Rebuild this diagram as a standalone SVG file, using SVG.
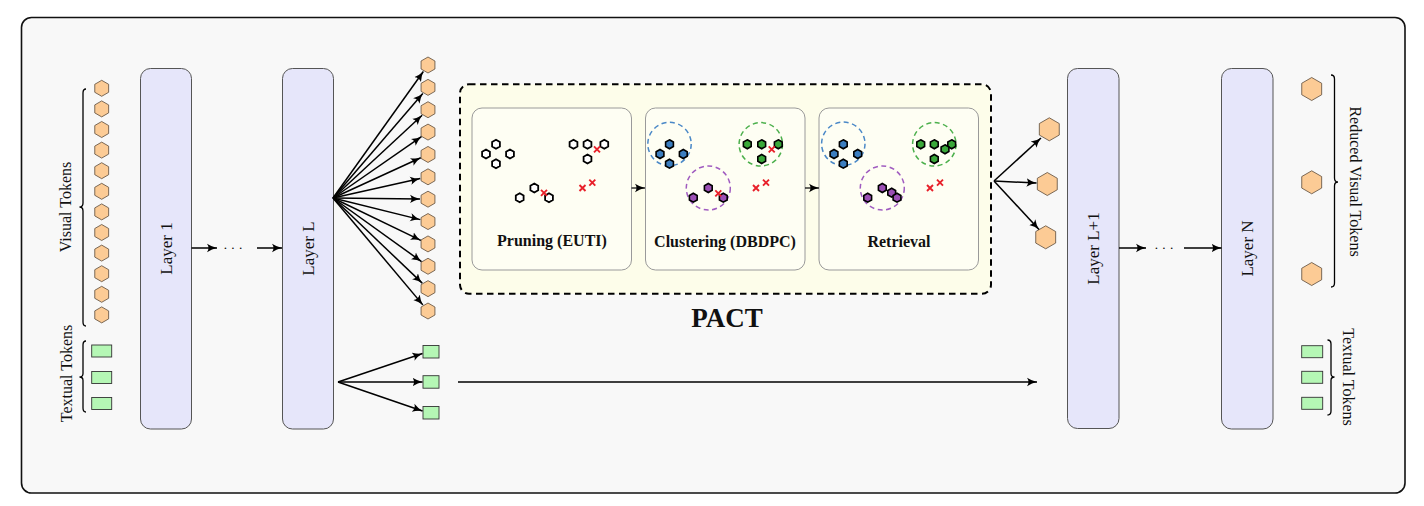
<svg xmlns="http://www.w3.org/2000/svg" xmlns:xlink="http://www.w3.org/1999/xlink" width="1424" height="506" viewBox="0 0 1424 506">
<style>
.layer{fill:#e6e6fa;stroke:#555;stroke-width:1}
.ltxt{font-family:"Liberation Serif",serif;font-size:17px;fill:#111;text-anchor:middle}
.tok{font-family:"Liberation Serif",serif;font-size:16px;fill:#111;text-anchor:middle}
.btxt{font-family:"Liberation Serif",serif;font-size:16px;font-weight:bold;fill:#111;text-anchor:middle}
.vis{fill:#fccb95;stroke:#5a4a3a;stroke-width:0.8}
.txt{fill:#b5f7b5;stroke:#333;stroke-width:0.9}
.arr{stroke:#000;stroke-width:1.5;fill:none;marker-end:url(#ah)}
.brace{stroke:#000;stroke-width:1.3;fill:none}
.sub{fill:#fefef3;stroke:#9a9a9a;stroke-width:1}
.pw{fill:#fff;stroke:#000;stroke-width:1.8}
.pb{fill:#3c7ec0;stroke:#000;stroke-width:1.6}
.pg{fill:#3aa83a;stroke:#000;stroke-width:1.6}
.pp{fill:#9b4fb5;stroke:#000;stroke-width:1.6}
.cx{stroke:#e8202a;stroke-width:1.9;fill:none}
.cb{fill:none;stroke:#4a88c7;stroke-width:1.5;stroke-dasharray:5 3.5}
.cg{fill:none;stroke:#4cb04c;stroke-width:1.5;stroke-dasharray:5 3.5}
.cp{fill:none;stroke:#a05cc0;stroke-width:1.5;stroke-dasharray:5 3.5}
</style>
<defs>
<marker id="ah" markerUnits="userSpaceOnUse" markerWidth="12" markerHeight="10" viewBox="0 0 12 10" refX="10" refY="5" orient="auto">
<path d="M0,0.8 Q5,4 10,5 Q5,6 0,9.2 Q3,5 0,0.8 Z" fill="#000"/>
</marker>
<polygon id="hs" points="0,-8 6.93,-4 6.93,4 0,8 -6.93,4 -6.93,-4"/>
<polygon id="hl" points="0,-11.5 9.96,-5.75 9.96,5.75 0,11.5 -9.96,5.75 -9.96,-5.75"/>
<polygon id="ht" points="0,-4.5 3.9,-2.25 3.9,2.25 0,4.5 -3.9,2.25 -3.9,-2.25"/>
<path id="xx" d="M-3,-3 L3,3 M-3,3 L3,-3"/>
</defs>

<rect x="21.5" y="17.5" width="1383.5" height="475.5" rx="10" fill="#f8f8f8" stroke="#111" stroke-width="1.6"/>

<g id="input-visual-tokens">
<use href="#hs" class="vis" x="101.7" y="88.3"/>
<use href="#hs" class="vis" x="101.7" y="108.9"/>
<use href="#hs" class="vis" x="101.7" y="129.5"/>
<use href="#hs" class="vis" x="101.7" y="150.1"/>
<use href="#hs" class="vis" x="101.7" y="170.7"/>
<use href="#hs" class="vis" x="101.7" y="191.3"/>
<use href="#hs" class="vis" x="101.7" y="211.9"/>
<use href="#hs" class="vis" x="101.7" y="232.5"/>
<use href="#hs" class="vis" x="101.7" y="253.1"/>
<use href="#hs" class="vis" x="101.7" y="273.7"/>
<use href="#hs" class="vis" x="101.7" y="294.3"/>
<use href="#hs" class="vis" x="101.7" y="314.9"/>
<path class="brace" d="M86,89 Q83,89 83,93 L83,203 Q83,207 79.5,207 Q83,207 83,211 L83,322 Q83,326 86,326"/>
<text class="tok" transform="translate(71,207) rotate(-90)">Visual Tokens</text>
</g>

<g id="input-textual-tokens">
<rect class="txt" x="91.7" y="345" width="20" height="12"/>
<rect class="txt" x="91.7" y="371.5" width="20" height="12"/>
<rect class="txt" x="91.7" y="397.5" width="20" height="12"/>
<path class="brace" d="M86,341 Q83,341 83,345 L83,373.5 Q83,377 79.5,377 Q83,377 83,380.5 L83,408 Q83,412 86,412"/>
<text class="tok" transform="translate(71.5,373.5) rotate(-90)">Textual Tokens</text>
</g>

<g id="layer-1">
<rect class="layer" x="140.5" y="68.5" width="51" height="360.5" rx="10"/>
<text class="ltxt" transform="translate(171.5,248.5) rotate(-90)">Layer 1</text>
</g>

<g id="layer-L">
<rect class="layer" x="282.5" y="68.5" width="51" height="360.5" rx="10"/>
<text class="ltxt" transform="translate(313.5,248.5) rotate(-90)">Layer L</text>
</g>

<g id="layer-L-visual-tokens">
<use href="#hs" class="vis" x="428" y="65"/>
<use href="#hs" class="vis" x="428" y="87.36"/>
<use href="#hs" class="vis" x="428" y="109.73"/>
<use href="#hs" class="vis" x="428" y="132.09"/>
<use href="#hs" class="vis" x="428" y="154.45"/>
<use href="#hs" class="vis" x="428" y="176.82"/>
<use href="#hs" class="vis" x="428" y="199.18"/>
<use href="#hs" class="vis" x="428" y="221.55"/>
<use href="#hs" class="vis" x="428" y="243.91"/>
<use href="#hs" class="vis" x="428" y="266.27"/>
<use href="#hs" class="vis" x="428" y="288.64"/>
<use href="#hs" class="vis" x="428" y="311"/>
</g>

<g id="layer-L-textual-tokens">
<rect class="txt" x="423" y="345.5" width="16" height="12.5"/>
<rect class="txt" x="423" y="375.7" width="16" height="12.5"/>
<rect class="txt" x="423" y="406.5" width="16" height="12.5"/>
</g>

<g id="pact">
<rect x="460" y="84.3" width="531" height="209.4" rx="9" fill="#fdfdea" stroke="#000" stroke-width="2" stroke-dasharray="6.5 4.5"/>
<text class="btxt" x="727" y="327" style="font-size:27px">PACT</text>
</g>

<g id="pruning">
<rect class="sub" x="472" y="108" width="159.5" height="162" rx="10"/>
<g transform="translate(472,108)">
<use href="#ht" class="pw" x="24" y="36.3"/>
<use href="#ht" class="pw" x="14" y="46"/>
<use href="#ht" class="pw" x="38" y="46"/>
<use href="#ht" class="pw" x="24" y="55.7"/>
<use href="#ht" class="pw" x="101.5" y="36.3"/>
<use href="#ht" class="pw" x="115.5" y="36.3"/>
<use href="#ht" class="pw" x="132.3" y="36.3"/>
<use href="#ht" class="pw" x="115.5" y="51"/>
<use href="#ht" class="pw" x="62.3" y="80"/>
<use href="#ht" class="pw" x="47.7" y="89.7"/>
<use href="#ht" class="pw" x="77" y="89.7"/>
<use href="#xx" class="cx" x="125" y="41.3"/>
<use href="#xx" class="cx" x="72" y="84.8"/>
<use href="#xx" class="cx" x="110.5" y="80"/>
<use href="#xx" class="cx" x="120.3" y="74.7"/>
</g>
<text class="btxt" x="552" y="246">Pruning (EUTI)</text>
</g>

<g id="clustering">
<rect class="sub" x="645.5" y="108" width="159.5" height="162" rx="10"/>
<g transform="translate(646,108)">
<circle class="cb" cx="23.5" cy="36" r="21.7"/>
<circle class="cg" cx="114.8" cy="36.3" r="21.7"/>
<circle class="cp" cx="62.3" cy="80" r="22"/>
<use href="#ht" class="pb" x="23.5" y="36.3"/>
<use href="#ht" class="pb" x="14" y="46"/>
<use href="#ht" class="pb" x="37.3" y="46"/>
<use href="#ht" class="pb" x="23.5" y="55.7"/>
<use href="#ht" class="pg" x="101.3" y="36.3"/>
<use href="#ht" class="pg" x="115.7" y="36.3"/>
<use href="#ht" class="pg" x="132.3" y="36.3"/>
<use href="#ht" class="pg" x="115.7" y="51"/>
<use href="#ht" class="pp" x="62.3" y="80"/>
<use href="#ht" class="pp" x="47.3" y="89.7"/>
<use href="#ht" class="pp" x="77.3" y="89.7"/>
<use href="#xx" class="cx" x="125.7" y="41.3"/>
<use href="#xx" class="cx" x="72.3" y="85.3"/>
<use href="#xx" class="cx" x="110" y="80"/>
<use href="#xx" class="cx" x="120" y="74.7"/>
</g>
<text class="btxt" x="725" y="246.5">Clustering (DBDPC)</text>
</g>

<g id="retrieval">
<rect class="sub" x="819" y="108" width="159.5" height="162" rx="10"/>
<g transform="translate(819,108)">
<circle class="cb" cx="24.3" cy="35.8" r="21.7"/>
<circle class="cg" cx="115.3" cy="36.3" r="21.7"/>
<circle class="cp" cx="63.3" cy="80" r="22"/>
<use href="#ht" class="pb" x="24.3" y="36.3"/>
<use href="#ht" class="pb" x="15" y="46"/>
<use href="#ht" class="pb" x="38.7" y="46"/>
<use href="#ht" class="pb" x="24.3" y="55.7"/>
<use href="#ht" class="pg" x="101.7" y="36.3"/>
<use href="#ht" class="pg" x="115.3" y="36.3"/>
<use href="#ht" class="pg" x="132.7" y="36.3"/>
<use href="#ht" class="pg" x="126" y="41.3"/>
<use href="#ht" class="pg" x="115.3" y="51"/>
<use href="#ht" class="pp" x="63.3" y="80"/>
<use href="#ht" class="pp" x="48.7" y="89.7"/>
<use href="#ht" class="pp" x="72.7" y="84.7"/>
<use href="#ht" class="pp" x="78" y="89.7"/>
<use href="#xx" class="cx" x="111" y="80"/>
<use href="#xx" class="cx" x="121" y="74.7"/>
</g>
<text class="btxt" x="899" y="247">Retrieval</text>
</g>

<g id="reduced-tokens-pact">
<use href="#hl" class="vis" x="1049.3" y="129.3"/>
<use href="#hl" class="vis" x="1047.3" y="184"/>
<use href="#hl" class="vis" x="1045.7" y="237.3"/>
</g>

<g id="layer-L1">
<rect class="layer" x="1067.5" y="68.5" width="51.5" height="360" rx="10"/>
<text class="ltxt" transform="translate(1099,248.5) rotate(-90)">Layer L+1</text>
</g>

<g id="layer-N">
<rect class="layer" x="1221.5" y="68.5" width="51.5" height="360.5" rx="10"/>
<text class="ltxt" transform="translate(1253,248.5) rotate(-90)">Layer N</text>
</g>

<g id="output-visual-tokens">
<use href="#hl" class="vis" x="1311.7" y="89"/>
<use href="#hl" class="vis" x="1311.7" y="182.3"/>
<use href="#hl" class="vis" x="1311.7" y="274"/>
<path class="brace" d="M1331,75 Q1334.5,75 1334.5,79 L1334.5,178 Q1334.5,182 1338,182 Q1334.5,182 1334.5,186 L1334.5,283 Q1334.5,287 1331,287"/>
<text class="tok" transform="translate(1350,181.5) rotate(90)">Reduced Visual Tokens</text>
</g>

<g id="output-textual-tokens">
<rect class="txt" x="1301.7" y="345.7" width="21" height="12"/>
<rect class="txt" x="1301.7" y="371.3" width="21" height="12"/>
<rect class="txt" x="1301.7" y="397.3" width="21" height="12"/>
<path class="brace" d="M1327.5,340 Q1331,340 1331,344 L1331,373.5 Q1331,377 1334.5,377 Q1331,377 1331,380.5 L1331,411 Q1331,415 1327.5,415"/>
<text class="tok" transform="translate(1343,377) rotate(90)">Textual Tokens</text>
</g>

<g id="connectors">
<line class="arr" x1="191.5" y1="248" x2="217" y2="248"/>
<text x="233" y="252" style="font-family:'Liberation Serif',serif;font-size:13px;text-anchor:middle">· · ·</text>
<line class="arr" x1="257" y1="248" x2="282" y2="248"/>

<line class="arr" x1="333" y1="198" x2="423.35" y2="71.51"/>
<line class="arr" x1="333" y1="198" x2="422.79" y2="93.43"/>
<line class="arr" x1="333" y1="198" x2="422.14" y2="115.18"/>
<line class="arr" x1="333" y1="198" x2="421.43" y2="136.65"/>
<line class="arr" x1="333" y1="198" x2="420.73" y2="157.78"/>
<line class="arr" x1="333" y1="198" x2="420.19" y2="178.56"/>
<line class="arr" x1="333" y1="198" x2="420" y2="199.08"/>
<line class="arr" x1="333" y1="198" x2="420.24" y2="219.63"/>
<line class="arr" x1="333" y1="198" x2="420.8" y2="240.43"/>
<line class="arr" x1="333" y1="198" x2="421.5" y2="261.6"/>
<line class="arr" x1="333" y1="198" x2="422.21" y2="283.12"/>
<line class="arr" x1="333" y1="198" x2="422.85" y2="304.88"/>

<line class="arr" x1="338" y1="382" x2="422.5" y2="353.5"/>
<line class="arr" x1="338" y1="382" x2="422.5" y2="382"/>
<line class="arr" x1="338" y1="382" x2="422.5" y2="411"/>

<line class="arr" x1="458" y1="382" x2="1037" y2="382"/>

<line class="arr" x1="631.5" y1="188" x2="645" y2="188" style="stroke-width:1.2"/>
<line class="arr" x1="805" y1="188" x2="819" y2="188" style="stroke-width:1.2"/>

<line class="arr" x1="994" y1="181" x2="1041" y2="138"/>
<line class="arr" x1="994" y1="181" x2="1036.5" y2="183"/>
<line class="arr" x1="994" y1="181" x2="1039" y2="229.5"/>

<line class="arr" x1="1119" y1="248" x2="1146" y2="248"/>
<text x="1164" y="252" style="font-family:'Liberation Serif',serif;font-size:13px;text-anchor:middle">· · ·</text>
<line class="arr" x1="1184" y1="248" x2="1221.5" y2="248"/>
</g>
</svg>
